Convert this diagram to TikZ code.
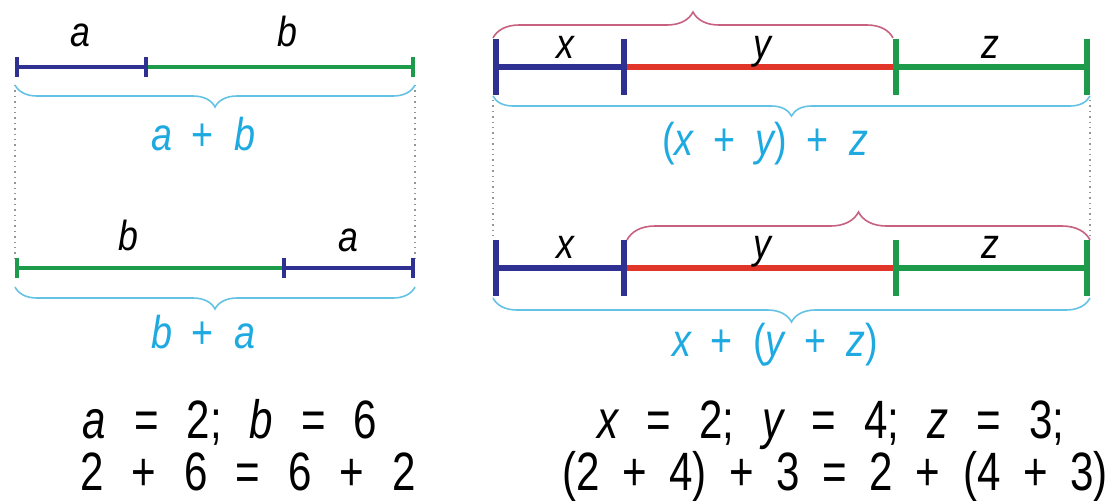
\documentclass[tikz,border=0pt]{standalone}
\usepackage{fontspec}
\setmainfont{Liberation Sans}[FakeStretch=0.85]
\newfontfamily\labf{Liberation Sans}[FakeStretch=0.85]
\newfontfamily\bluef{Liberation Sans}[FakeStretch=0.82]
\newfontfamily\botf{Liberation Sans}[FakeStretch=0.78]
\newcommand{\gapB}{\hspace{10pt}}
\newcommand{\gapT}{\hspace{14pt}}
\newcommand{\gapU}{\hspace{11.3pt}}
\usetikzlibrary{arrows.meta,decorations.pathreplacing}
\definecolor{navy}{RGB}{46,49,146}
\definecolor{sgreen}{RGB}{30,155,74}
\definecolor{sred}{RGB}{226,53,42}
\definecolor{lblue}{RGB}{30,170,225}
\definecolor{bblue}{RGB}{100,195,228}
\definecolor{pinkb}{RGB}{200,96,128}
\definecolor{dotgrey}{RGB}{150,150,150}
\tikzset{
  segL/.style={line width=2pt, {Bar[width=10pt]}-{Bar[width=10pt]}},
  segLl/.style={line width=2pt, {Bar[width=10pt]}-},
  segLr/.style={line width=2pt, -{Bar[width=10pt]}},
  segR/.style={line width=3pt, {Bar[width=28pt]}-{Bar[width=28pt]}},
  segRplain/.style={line width=3pt},
  dotline/.style={dotgrey, dotted, line width=0.7pt},
  bbrace/.style={bblue, line width=0.8pt, decorate},
  pbrace/.style={pinkb, line width=0.8pt, decorate},
  lab/.style={inner sep=0pt, anchor=base, font=\labf\fontsize{21}{21}\selectfont\itshape},
  bluelab/.style={inner sep=0pt, anchor=base, text=lblue, font=\bluef\fontsize{23}{23}\selectfont},
  bottxt/.style={inner sep=0pt, anchor=base, font=\botf\fontsize{27}{27}\selectfont}
}
\begin{document}
\begin{tikzpicture}[x=0.5pt,y=-0.5pt]
\useasboundingbox (0,0) rectangle (1115,500);
% left coordinates
\coordinate (A0) at (15,67);
\coordinate (A1) at (148,67);
\coordinate (A2) at (415,67);
\coordinate (B0) at (15,268);
\coordinate (B1) at (282,268);
\coordinate (B2) at (415,268);
% right coordinates
\coordinate (X0) at (493,67);
\coordinate (X1) at (627,67);
\coordinate (X2) at (893,67);
\coordinate (X3) at (1090,67);
\coordinate (P0) at (493,268);
\coordinate (P1) at (627,268);
\coordinate (P2) at (893,268);
\coordinate (P3) at (1090,268);

% dotted guides
\draw[dotline, shorten <=9pt, shorten >=5pt] (A0) -- (B0);
\draw[dotline, shorten <=9pt, shorten >=5pt] (A2) -- (B2);
\draw[dotline, shorten <=16.5pt, shorten >=14pt] (X0) -- (P0);
\draw[dotline, shorten <=16.5pt, shorten >=14pt] (X3) -- (P3);

% left top: a + b
\draw[segLr, sgreen] (A1) -- (A2);
\draw[segL, navy] (A0) -- (A1);
% left bottom: b + a
\draw[segLl, sgreen] (B0) -- (B1);
\draw[segL, navy] (B1) -- (B2);

% right top
\draw[segRplain, sred] (X1) -- (X2);
\draw[segR, sgreen] (X2) -- (X3);
\draw[segR, navy] (X0) -- (X1);
% right bottom
\draw[segRplain, sred] (P1) -- (P2);
\draw[segR, sgreen] (P2) -- (P3);
\draw[segR, navy] (P0) -- (P1);

% braces
\draw[bbrace, decoration={brace, mirror, raise=9pt, amplitude=11pt}] (A0) -- (A2);
\draw[bbrace, decoration={brace, mirror, raise=9.5pt, amplitude=11pt}] (B0) -- (B2);
\draw[bbrace, decoration={brace, mirror, raise=14.5pt, amplitude=10pt}] (X0) -- (X3);
\draw[bbrace, decoration={brace, mirror, raise=15pt, amplitude=12pt}] (P0) -- (P3);
\draw[pbrace, decoration={brace, raise=14.5pt, amplitude=13pt}] (X0) -- (X2);
\draw[pbrace, decoration={brace, raise=14pt, amplitude=14pt}] (P1) -- (P3);

% segment labels
\node[lab] (la1) at (80,46) {a};
\node[lab] (lb1) at (287,46) {b};
\node[lab] (lb2) at (128,250) {b};
\node[lab] (la2) at (348,251) {a};
\node[lab] (rx1) at (565,58) {x};
\node[lab] (ry1) at (762,58) {y};
\node[lab] (rz1) at (990,58) {z};
\node[lab] (rx2) at (565,258) {x};
\node[lab] (ry2) at (762,258) {y};
\node[lab] (rz2) at (990,258) {z};

% sums
\node[bluelab] (s1) at (203,150) {\itshape a\gapB\upshape+\gapB\itshape b};
\node[bluelab] (s2) at (203,348) {\itshape b\gapB\upshape+\gapB\itshape a};
\node[bluelab] (s3) at (765,155) {(\itshape x\gapB\upshape+\gapB\itshape y\upshape)\gapB+\gapB\itshape z};
\node[bluelab] (s4) at (775,356) {\itshape x\gapB\upshape+\gapB(\itshape y\gapB\upshape+\gapB\itshape z\upshape)};

% bottom text
\node[bottxt] (t1) at (230,438) {\itshape a\gapT\upshape=\gapT2;\gapT\itshape b\gapT\upshape=\gapT6};
\node[bottxt] (t2) at (248,490) {2\gapT+\gapT6\gapT=\gapT6\gapT+\gapT2};
\node[bottxt] (t3) at (831,438) {\itshape x\gapT\upshape=\gapT2;\gapT\itshape y\gapT\upshape=\gapT4;\gapT\itshape z\gapT\upshape=\gapT3;};
\node[bottxt] (t4) at (835,490) {(2\gapU+\gapU4)\gapU+\gapU3\gapU=\gapU2\gapU+\gapU(4\gapU+\gapU3)};
\end{tikzpicture}
\end{document}
